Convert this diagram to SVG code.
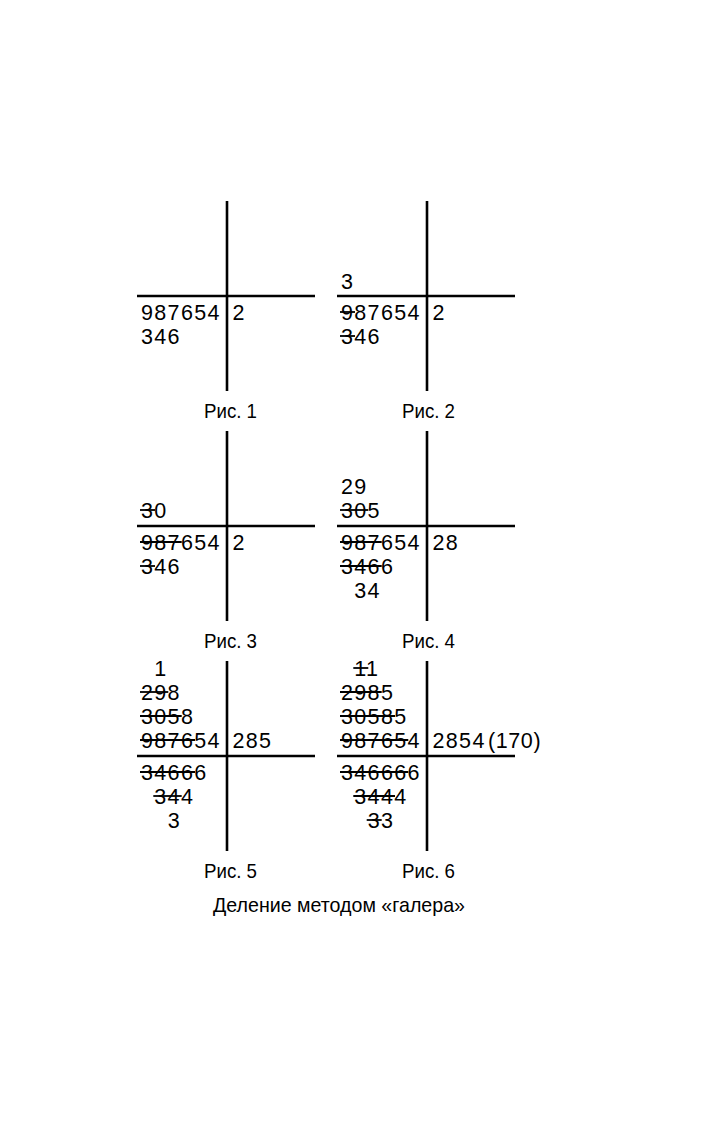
<svg xmlns="http://www.w3.org/2000/svg" width="709" height="1122" viewBox="0 0 709 1122">
<style>
.bg{fill:#fff}
.ax{stroke:#000;stroke-width:2.6;fill:none}
.st{stroke:#000;stroke-width:1.8;fill:none}
.d{font-family:"Liberation Sans",Arial,sans-serif;font-size:21.5px;letter-spacing:1.35px;fill:#000}
.cap{font-family:"Liberation Sans",Arial,sans-serif;font-size:21px;fill:#000;text-anchor:middle}
</style>
<rect class="bg" width="709" height="1122"/>
<g id="connectors">
<line class="ax" x1="227" y1="201" x2="227" y2="391"/>
<line class="ax" x1="137" y1="296" x2="315" y2="296"/>
<line class="ax" x1="427" y1="201" x2="427" y2="391"/>
<line class="ax" x1="337" y1="296" x2="515" y2="296"/>
<line class="ax" x1="227" y1="431" x2="227" y2="621"/>
<line class="ax" x1="137" y1="526" x2="315" y2="526"/>
<line class="ax" x1="427" y1="431" x2="427" y2="621"/>
<line class="ax" x1="337" y1="526" x2="515" y2="526"/>
<line class="ax" x1="227" y1="661" x2="227" y2="851"/>
<line class="ax" x1="137" y1="756" x2="315" y2="756"/>
<line class="ax" x1="427" y1="661" x2="427" y2="851"/>
<line class="ax" x1="337" y1="756" x2="515" y2="756"/>
</g>
<g id="fig1">
<text class="d" x="141" y="320">987654</text>
<text class="d" x="232.5" y="320">2</text>
<text class="d" x="141" y="344">346</text>
<text class="cap" x="230.5" y="418" textLength="53" lengthAdjust="spacingAndGlyphs">Рис. 1</text>
</g>
<g id="fig2">
<text class="d" x="341" y="289">3</text>
<text class="d" x="341" y="320">987654</text>
<line class="st" x1="340" y1="312" x2="355" y2="312"/>
<text class="d" x="432.5" y="320">2</text>
<text class="d" x="341" y="344">346</text>
<line class="st" x1="340" y1="336" x2="355" y2="336"/>
<text class="cap" x="428.5" y="418" textLength="53" lengthAdjust="spacingAndGlyphs">Рис. 2</text>
</g>
<g id="fig3">
<text class="d" x="141" y="518">30</text>
<line class="st" x1="140" y1="510" x2="155" y2="510"/>
<text class="d" x="141" y="550">987654</text>
<line class="st" x1="140" y1="542" x2="181.7" y2="542"/>
<text class="d" x="232.5" y="550">2</text>
<text class="d" x="141" y="574">346</text>
<line class="st" x1="140" y1="566" x2="155" y2="566"/>
<text class="cap" x="230.5" y="648" textLength="53" lengthAdjust="spacingAndGlyphs">Рис. 3</text>
</g>
<g id="fig4">
<text class="d" x="341" y="494">29</text>
<text class="d" x="341" y="518">305</text>
<line class="st" x1="340" y1="510" x2="368.3" y2="510"/>
<text class="d" x="341" y="550">987654</text>
<line class="st" x1="340" y1="542" x2="381.7" y2="542"/>
<text class="d" x="432.5" y="550">28</text>
<text class="d" x="341" y="574">3466</text>
<line class="st" x1="340" y1="566" x2="381.7" y2="566"/>
<text class="d" x="354.3" y="598">34</text>
<text class="cap" x="428.5" y="648" textLength="53" lengthAdjust="spacingAndGlyphs">Рис. 4</text>
</g>
<g id="fig5">
<text class="d" x="154.3" y="676">1</text>
<text class="d" x="141" y="700">298</text>
<line class="st" x1="140" y1="692" x2="168.3" y2="692"/>
<text class="d" x="141" y="724">3058</text>
<line class="st" x1="140" y1="716" x2="181.7" y2="716"/>
<text class="d" x="141" y="748">987654</text>
<line class="st" x1="140" y1="740" x2="195" y2="740"/>
<text class="d" x="232.5" y="748">285</text>
<text class="d" x="141" y="780">34666</text>
<line class="st" x1="140" y1="772" x2="195" y2="772"/>
<text class="d" x="154.3" y="804">344</text>
<line class="st" x1="153.3" y1="796" x2="181.7" y2="796"/>
<text class="d" x="167.7" y="828">3</text>
<text class="cap" x="230.5" y="878" textLength="53" lengthAdjust="spacingAndGlyphs">Рис. 5</text>
</g>
<g id="fig6">
<text class="d" x="354.3" y="676">11</text>
<line class="st" x1="353.3" y1="668" x2="368.3" y2="668"/>
<text class="d" x="341" y="700">2985</text>
<line class="st" x1="340" y1="692" x2="381.7" y2="692"/>
<text class="d" x="341" y="724">30585</text>
<line class="st" x1="340" y1="716" x2="395" y2="716"/>
<text class="d" x="341" y="748">987654</text>
<line class="st" x1="340" y1="740" x2="408.3" y2="740"/>
<text class="d" x="432.5" y="748">2854</text>
<text class="d" x="488" y="748" style="letter-spacing:0.6px">(170)</text>
<text class="d" x="341" y="780">346666</text>
<line class="st" x1="340" y1="772" x2="408.3" y2="772"/>
<text class="d" x="354.3" y="804">3444</text>
<line class="st" x1="353.3" y1="796" x2="395" y2="796"/>
<text class="d" x="367.7" y="828">33</text>
<line class="st" x1="366.7" y1="820" x2="381.7" y2="820"/>
<text class="cap" x="428.5" y="878" textLength="53" lengthAdjust="spacingAndGlyphs">Рис. 6</text>
</g>
<g id="title">
<text class="cap" x="339" y="912" textLength="252" lengthAdjust="spacingAndGlyphs">Деление методом «галера»</text>
</g>
</svg>
